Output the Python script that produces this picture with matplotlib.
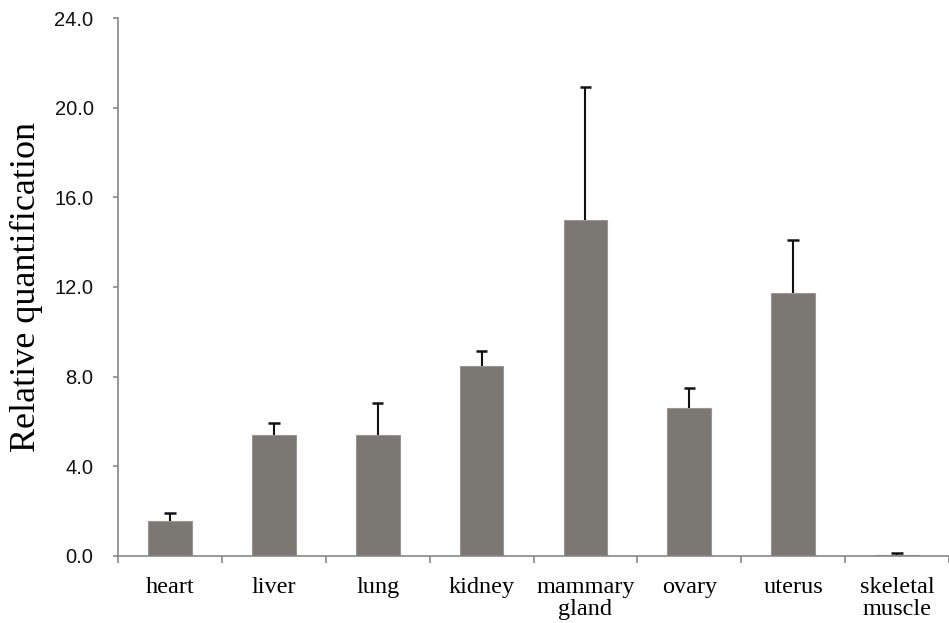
import matplotlib
matplotlib.use('Agg')
import matplotlib.pyplot as plt
import numpy as np

tissues = ['heart', 'liver', 'lung', 'kidney', 'mammary\ngland', 'ovary', 'uterus', 'skeletal\nmuscle']
rq = [1.56, 5.39, 5.39, 8.47, 15.0, 6.61, 11.74, 0.05]
rq_err = [0.33, 0.52, 1.41, 0.67, 5.92, 0.88, 2.37, 0.08]
y_ticks = [0, 4, 8, 12, 16, 20, 24]

fig = plt.figure(figsize=(9.49, 6.23), dpi=100)
ax = fig.add_axes([118/949, 67.3/623, 831/949, 537.6/623])

x = np.arange(len(tissues))
rq = np.array(rq)
rq_err = np.array(rq_err)
ax.bar(x, rq, width=0.42, color='#7b7772', edgecolor='#9a9692', linewidth=0.8)

# upper error bars only, cap on top
ax.vlines(x, rq, rq + rq_err, color='#111111', linewidth=1.5)
ax.hlines(rq + rq_err, x - 0.055, x + 0.055, color='#111111', linewidth=1.8)

ax.set_xlim(-0.5, len(tissues) - 0.5)
ax.set_ylim(0, 24)
ax.set_yticks(y_ticks)
ax.set_yticklabels([f'{v:.1f}' for v in y_ticks],
                   fontfamily='Liberation Sans', fontsize=14.5, color='#111111')
ax.set_xticks(x)
ax.set_xticklabels(tissues, fontfamily='Liberation Serif', fontsize=17.5, linespacing=1.1)
ax.set_xticks(np.arange(len(tissues) + 1) - 0.5, minor=True)
ax.tick_params(axis='x', which='major', length=0, pad=15)
ax.tick_params(axis='x', which='minor', length=5, color='#888888', width=1.2)
ax.tick_params(axis='y', length=3.6, color='#888888', width=1.2, pad=14)

for side in ['top', 'right']:
    ax.spines[side].set_visible(False)
for side in ['left', 'bottom']:
    ax.spines[side].set_color('#888888')
    ax.spines[side].set_linewidth(1.2)

ax.set_ylabel('Relative quantification', fontfamily='Liberation Serif', fontsize=26, labelpad=8)

plt.savefig('out.png', dpi=100)
